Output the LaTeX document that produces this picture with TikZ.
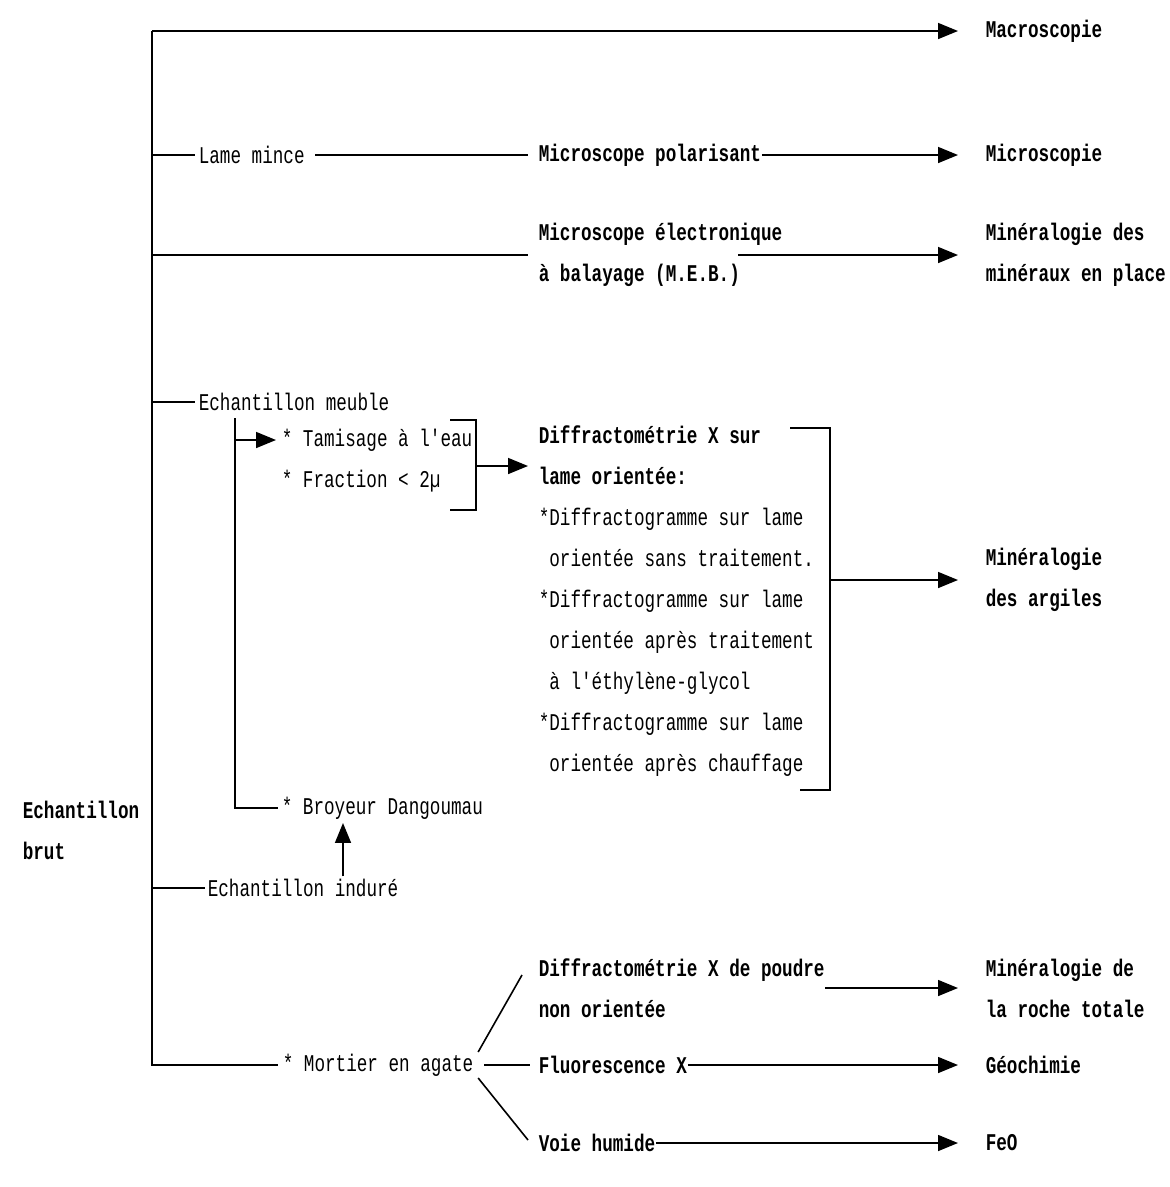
\documentclass[tikz,border=0pt]{standalone}
\usepackage{fontspec}
\newfontfamily\dotfont[FakeStretch=0.735]{Liberation Mono}
\usetikzlibrary{arrows.meta}

\begin{document}
\begin{tikzpicture}[x=1pt,y=-1pt,line width=1.6pt,
  every node/.style={inner sep=0pt,anchor=west,align=left},
  txt/.style={font=\dotfont\fontsize{24}{41}\selectfont},
  btxt/.style={font=\dotfont\bfseries\fontsize{24}{41}\selectfont},
  arr/.style={-{Triangle[length=20pt,width=16pt]}}]
\useasboundingbox (0,0) rectangle (1170,1187);
% left column
\node[btxt] (brut) at (22,830) {Echantillon\\brut};
\node[txt] (lame) at (198,155) {Lame mince};
\node[txt] (meuble) at (198,402) {Echantillon meuble};
\node[txt] (tamis) at (281,440) {* Tamisage à l'eau};
\node[txt] (fraction) at (281,481) {* Fraction < 2µ};
\node[txt] (broyeur) at (281,808) {* Broyeur Dangoumau};
\node[txt] (indure) at (207,888) {Echantillon induré};
\node[txt] (mortier) at (282,1065) {* Mortier en agate};
% middle column
\node[btxt] (micpol) at (538,155) {Microscope polarisant};
\node[btxt] (meb) at (538,255) {Microscope électronique\\à balayage (M.E.B.)};
\node[txt] (drx) at (538,601) {{\bfseries Diffractométrie X sur}\\{\bfseries lame orientée:}\\{}*Diffractogramme sur lame\\\hphantom{*}orientée sans traitement.\\{}*Diffractogramme sur lame\\\hphantom{*}orientée après traitement\\\hphantom{*}à l'éthylène-glycol\\{}*Diffractogramme sur lame\\\hphantom{*}orientée après chauffage};
\node[btxt] (drxp) at (538,988) {Diffractométrie X de poudre\\non orientée};
\node[btxt] (fluo) at (538,1065) {Fluorescence X};
\node[btxt] (voie) at (538,1143) {Voie humide};
% results
\node[btxt] (macro) at (985,31) {Macroscopie};
\node[btxt] (micro) at (985,155) {Microscopie};
\node[btxt] (minplace) at (985,255) {Minéralogie des\\minéraux en place};
\node[btxt] (argiles) at (985,580) {Minéralogie\\des argiles};
\node[btxt] (roche) at (985,988) {Minéralogie de\\la roche totale};
\node[btxt] (geoch) at (985,1065) {Géochimie};
\node[btxt] (feo) at (985,1143) {FeO};
% main spine
\coordinate (sp) at (152,31);
\draw[arr,shorten >=27pt] (sp) -- (macro.west);
\draw (sp) -- (mortier.west -| sp) -- ([xshift=-4pt]mortier.west);
\draw (lame.west -| sp) -- ([xshift=-3pt]lame.west);
\draw[shorten <=10pt,shorten >=10pt] (lame.east) -- (micpol.west);
\draw[arr,shorten >=27pt] (micpol.east) -- (micro.west);
\draw (meb.west -| sp) -- ([xshift=-10pt]meb.west);
\draw[arr,shorten >=27pt] ([xshift=-45pt]meb.east) -- (minplace.west);
\draw (meuble.west -| sp) -- ([xshift=-3pt]meuble.west);
\draw (indure.west -| sp) -- ([xshift=-2pt]indure.west);
% loose sample branch
\coordinate (sub) at (235,418);
\draw (sub) |- ([xshift=-3pt]broyeur.west);
\draw[arr,shorten >=5pt] (tamis.west -| sub) -- (tamis.west);
\coordinate (b1t) at (476,420);
\coordinate (b1b) at (476,510);
\draw ([xshift=-26pt]b1t) -- (b1t) -- (b1b) -- ([xshift=-26pt]b1b);
\coordinate (b1m) at (476,466);
\draw[arr,shorten >=10pt] (b1m) -- (b1m -| drx.west);
\coordinate (b2t) at (830,428);
\coordinate (b2b) at (830,790);
\draw ([xshift=-40pt]b2t) -- (b2t) -- (b2b) -- ([xshift=-30pt]b2b);
\draw[arr,shorten >=27pt] (b2t |- argiles.west) -- (argiles.west);
\coordinate (upx) at (343,0);
\draw[arr,shorten <=2pt,shorten >=3pt] (indure.north -| upx) -- (broyeur.south -| upx);
% agate mortar branch
\draw ([shift={(4pt,13pt)}]mortier.east) -- ([shift={(-16pt,13pt)}]drxp.west);
\draw ([shift={(4pt,-13pt)}]mortier.east) -- ([shift={(-10pt,3pt)}]voie.west);
\draw[shorten <=10pt,shorten >=8pt] (mortier.east) -- (fluo.west);
\draw[arr,shorten >=27pt] (drxp.east) -- (roche.west);
\draw[arr,shorten >=27pt] (fluo.east) -- (geoch.west);
\draw[arr,shorten >=27pt] (voie.east) -- (feo.west);
\end{tikzpicture}
\end{document}
